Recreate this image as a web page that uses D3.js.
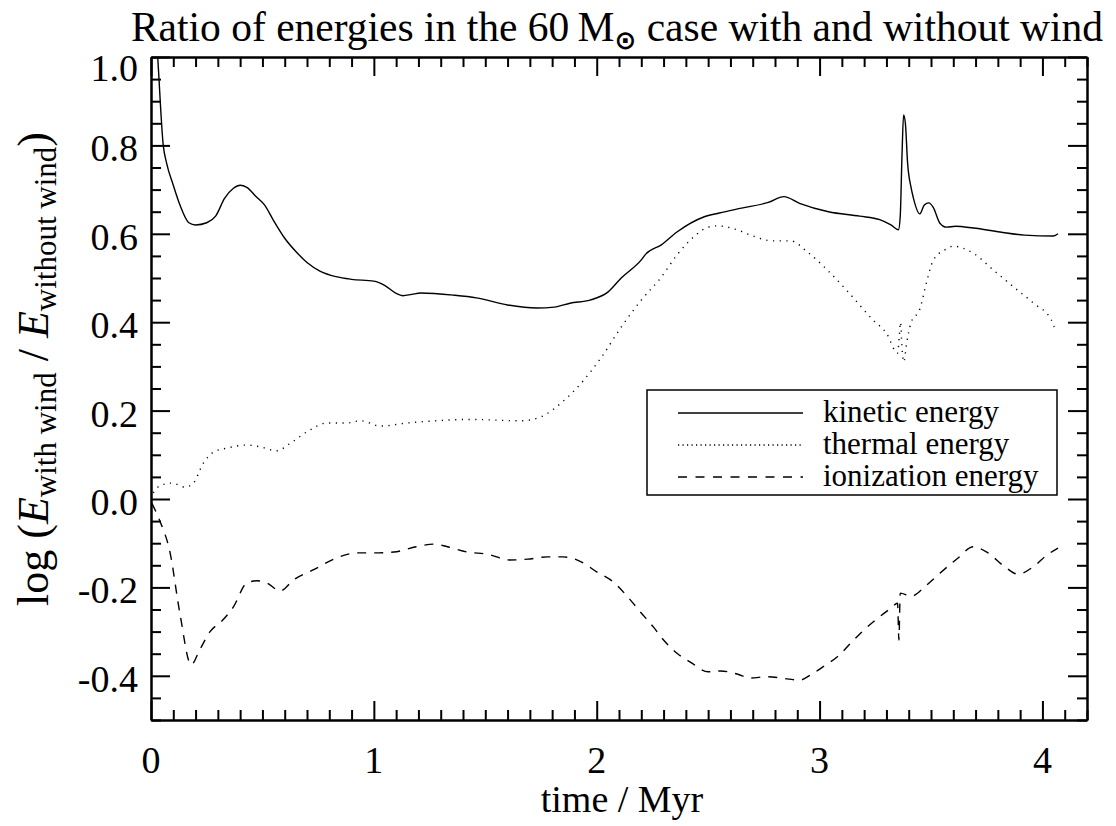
<!DOCTYPE html>
<html lang="en">
<head>
    <meta charset="UTF-8">
    <title>Ratio of energies</title>
    <script src="https://d3js.org/d3.v7.min.js"></script>
    <style>
        body { margin: 0; background: #fff; }
        svg { font-family: "Liberation Serif", "Times New Roman", serif; }
    </style>
</head>
<body>
    <svg width="1116" height="826"></svg>
    <script>
        // time in Myr, log ratio
        const kineticT = [0.01, 0.03, 0.055, 0.07, 0.1, 0.13, 0.17, 0.2, 0.25, 0.29, 0.33, 0.37, 0.4, 0.43, 0.47, 0.51, 0.55, 0.6, 0.65, 0.7, 0.76, 0.83, 0.9, 1.0, 1.05, 1.1, 1.13, 1.17, 1.21, 1.36, 1.46, 1.6, 1.73, 1.81, 1.88, 1.97, 2.05, 2.11, 2.2, 2.22, 2.29, 2.36, 2.48, 2.55, 2.65, 2.77, 2.84, 2.91, 3.04, 3.18, 3.27, 3.32, 3.354, 3.362, 3.37, 3.377, 3.385, 3.395, 3.41, 3.42, 3.45, 3.47, 3.49, 3.51, 3.54, 3.57, 3.61, 3.69, 3.81, 3.92, 4.05, 4.07];
        const kineticV = [1.15, 1.0, 0.8, 0.76, 0.71, 0.665, 0.625, 0.62, 0.625, 0.64, 0.68, 0.703, 0.71, 0.705, 0.685, 0.665, 0.63, 0.59, 0.56, 0.535, 0.515, 0.503, 0.497, 0.493, 0.483, 0.465, 0.46, 0.463, 0.466, 0.461, 0.455, 0.439, 0.432, 0.434, 0.443, 0.45, 0.468, 0.5, 0.541, 0.554, 0.575, 0.604, 0.638, 0.647, 0.658, 0.671, 0.684, 0.669, 0.65, 0.64, 0.632, 0.62, 0.609, 0.64, 0.78, 0.869, 0.85, 0.76, 0.706, 0.683, 0.645, 0.665, 0.67, 0.66, 0.624, 0.615, 0.617, 0.613, 0.604, 0.597, 0.595, 0.6];

        const thermalT = [0.01, 0.04, 0.094, 0.153, 0.19, 0.235, 0.28, 0.34, 0.43, 0.49, 0.565, 0.625, 0.7, 0.79, 0.88, 0.94, 1.03, 1.15, 1.28, 1.43, 1.66, 1.75, 1.84, 1.93, 2.02, 2.11, 2.2, 2.29, 2.36, 2.435, 2.5, 2.54, 2.63, 2.69, 2.79, 2.87, 2.945, 3.035, 3.12, 3.24, 3.3, 3.35, 3.358, 3.363, 3.37, 3.378, 3.39, 3.41, 3.45, 3.48, 3.51, 3.56, 3.6, 3.69, 3.78, 3.87, 3.96, 4.04, 4.06];
        const thermalV = [0.014, 0.03, 0.036, 0.027, 0.036, 0.081, 0.106, 0.115, 0.122, 0.118, 0.109, 0.126, 0.152, 0.172, 0.172, 0.177, 0.165, 0.172, 0.177, 0.18, 0.177, 0.186, 0.217, 0.262, 0.32, 0.389, 0.45, 0.502, 0.552, 0.593, 0.615, 0.618, 0.609, 0.597, 0.584, 0.584, 0.559, 0.518, 0.473, 0.405, 0.375, 0.33, 0.37, 0.4, 0.34, 0.31, 0.35, 0.398, 0.43, 0.49, 0.54, 0.563, 0.572, 0.556, 0.518, 0.48, 0.443, 0.405, 0.378];

        const ionT = [0.004, 0.04, 0.085, 0.13, 0.18, 0.22, 0.265, 0.32, 0.37, 0.43, 0.475, 0.52, 0.58, 0.64, 0.73, 0.83, 0.925, 1.0, 1.09, 1.19, 1.27, 1.33, 1.42, 1.51, 1.61, 1.69, 1.78, 1.85, 1.93, 2.0, 2.075, 2.14, 2.195, 2.255, 2.3, 2.36, 2.42, 2.5, 2.555, 2.63, 2.69, 2.765, 2.855, 2.91, 2.96, 3.02, 3.08, 3.14, 3.2, 3.26, 3.32, 3.35, 3.356, 3.362, 3.41, 3.48, 3.54, 3.62, 3.69, 3.75, 3.83, 3.89, 3.96, 4.02, 4.07];
        const ionV = [-0.01, -0.05, -0.12, -0.26, -0.375, -0.34, -0.3, -0.275, -0.244, -0.19, -0.185, -0.19, -0.208, -0.183, -0.16, -0.134, -0.122, -0.122, -0.12, -0.108, -0.102, -0.108, -0.12, -0.125, -0.138, -0.136, -0.131, -0.131, -0.142, -0.165, -0.188, -0.222, -0.255, -0.29, -0.319, -0.349, -0.369, -0.391, -0.389, -0.396, -0.405, -0.402, -0.407, -0.41, -0.398, -0.378, -0.357, -0.326, -0.296, -0.27, -0.247, -0.236, -0.319, -0.213, -0.22, -0.195, -0.168, -0.134, -0.108, -0.12, -0.153, -0.17, -0.153, -0.127, -0.111];

        const xMajor = [0, 1, 2, 3, 4];
        const yMajor = [-0.4, -0.2, 0.0, 0.2, 0.4, 0.6, 0.8, 1.0];
        const legendLabels = ["kinetic energy", "thermal energy", "ionization energy"];

        const plotL = 151, plotR = 1087, plotT = 57, plotB = 720;

        const svg = d3.select("svg");

        const x = d3.scaleLinear().domain([0, 4.2]).range([plotL, plotR]);
        const y = d3.scaleLinear().domain([-0.5, 1.0]).range([plotB, plotT]);

        const xMinor = d3.range(0, 4.2001, 0.1).filter(t => Math.abs(t - Math.round(t)) > 1e-6);
        const yMinor = d3.range(-0.5, 1.0001, 0.05).filter(v => Math.abs(v * 5 - Math.round(v * 5)) > 1e-6);

        // clip
        svg.append("clipPath").attr("id", "clip")
            .append("rect").attr("x", plotL).attr("y", plotT)
            .attr("width", plotR - plotL).attr("height", plotB - plotT);

        function drawTicks(axisFn, scale, values, size, pos) {
            const g = svg.append("g").attr("transform", pos)
                .call(axisFn(scale).tickValues(values).tickSize(size).tickSizeOuter(0).tickFormat(""));
            g.select(".domain").attr("stroke-width", 2);
            g.selectAll(".tick line").attr("stroke-width", 2);
            return g;
        }

        // inward ticks on all four sides
        drawTicks(d3.axisBottom, x, xMinor, -10, `translate(0,${plotB})`);
        drawTicks(d3.axisBottom, x, xMajor, -19, `translate(0,${plotB})`);
        drawTicks(d3.axisTop, x, xMinor, -10, `translate(0,${plotT})`);
        drawTicks(d3.axisTop, x, xMajor, -19, `translate(0,${plotT})`);
        drawTicks(d3.axisLeft, y, yMinor, -10, `translate(${plotL},0)`);
        drawTicks(d3.axisLeft, y, yMajor, -19, `translate(${plotL},0)`);
        drawTicks(d3.axisRight, y, yMinor, -10, `translate(${plotR},0)`);
        drawTicks(d3.axisRight, y, yMajor, -19, `translate(${plotR},0)`);

        // tick labels
        svg.append("g").selectAll("text").data(xMajor).join("text")
            .attr("x", d => x(d)).attr("y", 773)
            .attr("text-anchor", "middle").attr("font-size", 38)
            .text(d => d);

        svg.append("g").selectAll("text").data(yMajor).join("text")
            .attr("x", 138).attr("y", d => y(d) + (d === 1.0 ? 24 : 16))
            .attr("text-anchor", "end").attr("font-size", 38)
            .text(d => d.toFixed(1));

        // series
        const line = d3.line().x(d => x(d[0])).y(d => y(d[1])).curve(d3.curveMonotoneX);
        const series = [
            { t: kineticT, v: kineticV, dash: null, legendDash: null },
            { t: thermalT, v: thermalV, dash: "1.2,5.5", legendDash: "1.2,3.3" },
            { t: ionT, v: ionV, dash: "9,8", legendDash: "9,8.5" }
        ];

        const plot = svg.append("g").attr("clip-path", "url(#clip)");
        series.forEach(s => {
            plot.append("path")
                .datum(s.t.map((t, i) => [t, s.v[i]]))
                .attr("fill", "none").attr("stroke", "#000")
                .attr("stroke-width", 1.4)
                .attr("stroke-dasharray", s.dash)
                .attr("d", line);
        });

        // legend
        const legend = svg.append("g");
        legend.append("rect").attr("x", 647).attr("y", 390)
            .attr("width", 410).attr("height", 105)
            .attr("fill", "#fff").attr("stroke", "#000").attr("stroke-width", 1.5);
        legendLabels.forEach((lab, i) => {
            const ly = 413 + i * 32;
            legend.append("line").attr("x1", 678).attr("x2", 803)
                .attr("y1", ly).attr("y2", ly)
                .attr("stroke", "#000").attr("stroke-width", 1.4)
                .attr("stroke-dasharray", series[i].legendDash);
            legend.append("text").attr("x", 823).attr("y", ly + 9)
                .attr("font-size", 31).text(lab);
        });

        // title
        const title = svg.append("text").attr("x", 617).attr("y", 41)
            .attr("text-anchor", "middle").attr("font-size", 41.5);
        title.append("tspan").text("Ratio of energies in the 60\u2009M");
        title.append("tspan").attr("font-size", 26).attr("font-weight", "bold")
            .attr("font-family", "DejaVu Sans").attr("dy", 8).text("\u2299");
        title.append("tspan").attr("dy", -8).text(" case with and without wind");

        // axis titles
        svg.append("text").attr("x", 622).attr("y", 812)
            .attr("text-anchor", "middle").attr("font-size", 38)
            .text("time / Myr");

        const yl = svg.append("text")
            .attr("transform", "translate(48,369) rotate(-90)")
            .attr("text-anchor", "middle").attr("font-size", 44);
        yl.append("tspan").text("log (");
        yl.append("tspan").attr("font-style", "italic").text("E");
        yl.append("tspan").attr("font-size", 31).attr("dy", 8).text("with wind");
        yl.append("tspan").attr("dy", -8).text(" / ");
        yl.append("tspan").attr("font-style", "italic").text("E");
        yl.append("tspan").attr("font-size", 31).attr("dy", 8).text("without wind");
        yl.append("tspan").attr("dy", -8).text(")");
    </script>
</body>
</html>
